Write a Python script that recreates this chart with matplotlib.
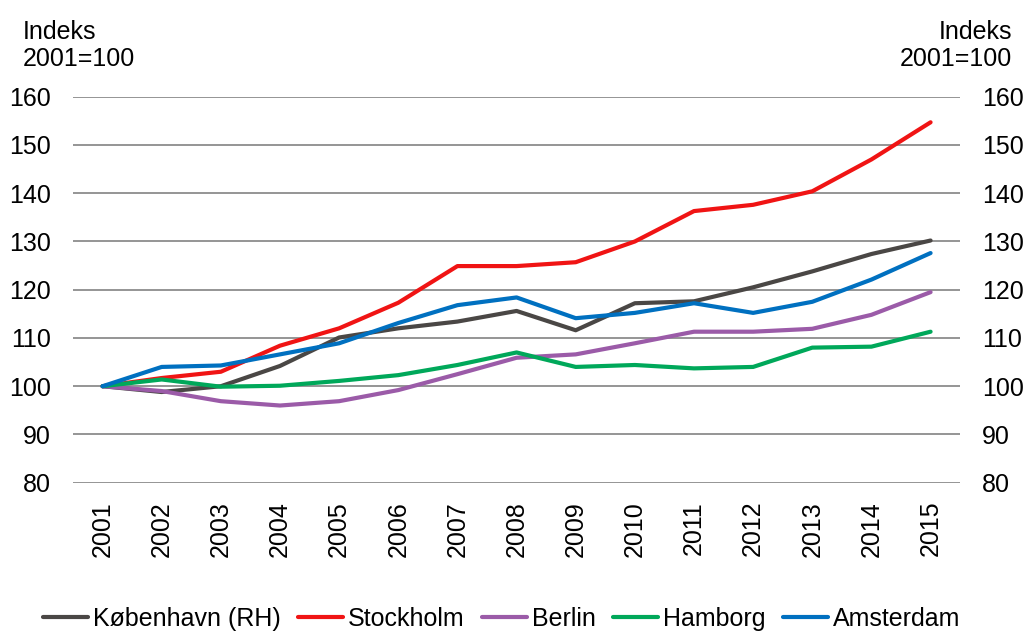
import matplotlib
matplotlib.use("Agg")
import matplotlib.pyplot as plt

plt.rcParams['font.family'] = ['Liberation Sans', 'DejaVu Sans']

years = list(range(2001, 2016))
koebenhavn = [100, 98.8, 100, 104.2, 110.1, 112, 113.4, 115.6, 111.6, 117.2, 117.6, 120.5, 123.8, 127.4, 130.2]
stockholm = [100, 101.7, 103, 108.4, 112, 117.3, 124.9, 124.9, 125.7, 130, 136.3, 137.6, 140.4, 147, 154.7]
berlin = [100, 99, 96.9, 96, 96.9, 99.2, 102.5, 105.9, 106.6, 108.9, 111.3, 111.3, 111.9, 114.8, 119.5]
hamborg = [100, 101.4, 99.9, 100.1, 101.1, 102.3, 104.4, 107, 104, 104.4, 103.7, 104, 108, 108.2, 111.3]
amsterdam = [100, 104, 104.3, 106.6, 108.9, 113.1, 116.8, 118.4, 114.1, 115.2, 117.2, 115.2, 117.5, 122.1, 127.6]

series = [
    ('København (RH)', koebenhavn, '#4a4745'),
    ('Stockholm', stockholm, '#f01414'),
    ('Berlin', berlin, '#9b5ba8'),
    ('Hamborg', hamborg, '#00a85a'),
    ('Amsterdam', amsterdam, '#0070c0'),
]

fs = 18
fig = plt.figure(figsize=(10.28, 6.33), dpi=100)
ax = fig.add_axes([0.071, 0.2374, 0.863, 0.6098])

for name, vals, col in series:
    ax.plot(years, vals, color=col, lw=3, label=name, solid_capstyle='round')

ax.set_xlim(2000.5, 2015.5)
ax.set_ylim(80, 160)
ax.set_yticks(range(80, 161, 10))
ax.set_xticks(years)
ax.set_xticklabels([str(y) for y in years], rotation=90, fontsize=fs)
ax.grid(axis='y', color='#8c8c8c', lw=1.3)
ax.set_axisbelow(True)
for s in ax.spines.values():
    s.set_visible(False)
ax.tick_params(axis='y', length=0, pad=16, labelsize=fs, labelright=True, right=False)
ax.tick_params(axis='x', length=0, pad=13)

fig.text(23 / 1028, 1 - 20 / 633, 'Indeks\n2001=100', fontsize=fs, ha='left', va='top', linespacing=1.15)
fig.text(1012 / 1028, 1 - 20 / 633, 'Indeks\n2001=100', fontsize=fs, ha='right', va='top', linespacing=1.15,
         multialignment='right')

ax.legend(loc='center', bbox_to_anchor=(0.488, 0.022), bbox_transform=fig.transFigure, ncol=5,
          frameon=False, fontsize=fs, handlelength=1.8, handletextpad=0.2, columnspacing=0.7)

fig.savefig('out.png', dpi=100)
